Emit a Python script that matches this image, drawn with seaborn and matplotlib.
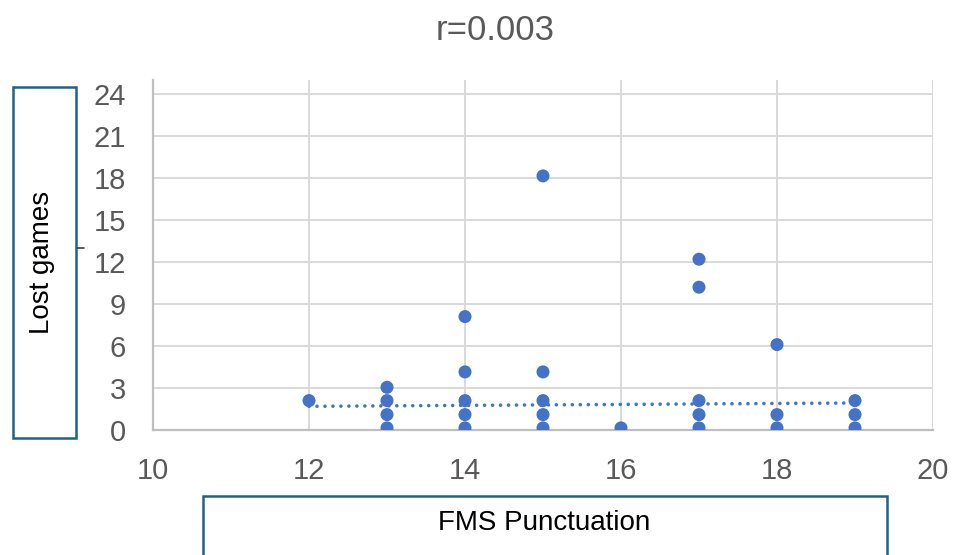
import numpy as np
import pandas as pd
import matplotlib
matplotlib.use("Agg")
import matplotlib.pyplot as plt
import seaborn as sns
from matplotlib.patches import Rectangle
from matplotlib.lines import Line2D

# ---- data ----
fms_score = [12,
             13, 13, 13, 13,
             14, 14, 14, 14, 14,
             15, 15, 15, 15, 15,
             16,
             17, 17, 17, 17, 17,
             18, 18, 18,
             19, 19, 19]
lost_games = [2.1,
              3.05, 2.1, 1.1, 0.15,
              8.1, 4.15, 2.1, 1.1, 0.15,
              18.15, 4.15, 2.1, 1.1, 0.15,
              0.15,
              12.2, 10.2, 2.1, 1.1, 0.15,
              6.1, 1.1, 0.15,
              2.1, 1.1, 0.15]
trend_x = [12, 19]
trend_y = [1.69, 1.93]
x_ticks = [10, 12, 14, 16, 18, 20]
y_ticks = [0, 3, 6, 9, 12, 15, 18, 21, 24]
title_text = "r=0.003"
x_label = "FMS Punctuation"
y_label = "Lost games"

df = pd.DataFrame({"x": fms_score, "y": lost_games})
tdf = pd.DataFrame({"x": trend_x, "y": trend_y})

sns.set_style("whitegrid")
plt.rcParams["font.family"] = ["Liberation Sans", "DejaVu Sans"]

W, H = 954, 555
fig = plt.figure(figsize=(W / 100, H / 100), dpi=100)
ax = fig.add_axes([153 / W, 1 - 430 / H, (933 - 153) / W, (430 - 80) / H])

blue = "#4472C4"
sns.lineplot(data=tdf, x="x", y="y", ax=ax, color=blue, lw=2.6,
             linestyle=(0, (0.01, 2.2)), dash_capstyle="round", zorder=2)
sns.scatterplot(data=df, x="x", y="y", ax=ax, color=blue, s=88,
                edgecolor="none", linewidth=0, zorder=3)

ax.set_xlim(10, 20)
ax.set_ylim(0, 25)
ax.set_xticks(x_ticks)
ax.set_yticks(y_ticks)
ax.set_xlabel("")
ax.set_ylabel("")
ax.grid(True, color="#D9D9D9", lw=1.4)
for s in ["top", "right"]:
    ax.spines[s].set_visible(False)
for s in ["left", "bottom"]:
    ax.spines[s].set_visible(True)
    ax.spines[s].set_color("#BFBFBF")
    ax.spines[s].set_linewidth(1.6)
ax.tick_params(length=0, pad=19.5, labelsize=21, labelcolor="#595959")

fig.text(495 / W, 1 - 30 / H, title_text, ha="center", va="center",
         fontsize=25, color="#595959")

box_col = "#1F6388"
# y label box
fig.add_artist(Rectangle((13 / W, 1 - 438 / H), (76 - 13) / W, (438 - 87) / H,
                         transform=fig.transFigure, fill=False,
                         edgecolor=box_col, lw=1.8))
fig.text(42 / W, 1 - 262 / H, y_label, rotation=90, ha="center", va="center",
         fontsize=20, color="black")
# x label box
fig.add_artist(Rectangle((203 / W, 1 - 570 / H), (887 - 203) / W, (570 - 496) / H,
                         transform=fig.transFigure, fill=False,
                         edgecolor=box_col, lw=1.8))
fig.text(544 / W, 1 - 523 / H, x_label, ha="center", va="center",
         fontsize=20, color="black")
# small stray tick mark
fig.add_artist(Line2D([77 / W, 84 / W], [1 - 248 / H, 1 - 248 / H],
                      transform=fig.transFigure, color="#404040", lw=1.2))

fig.savefig("out.png", dpi=100)
